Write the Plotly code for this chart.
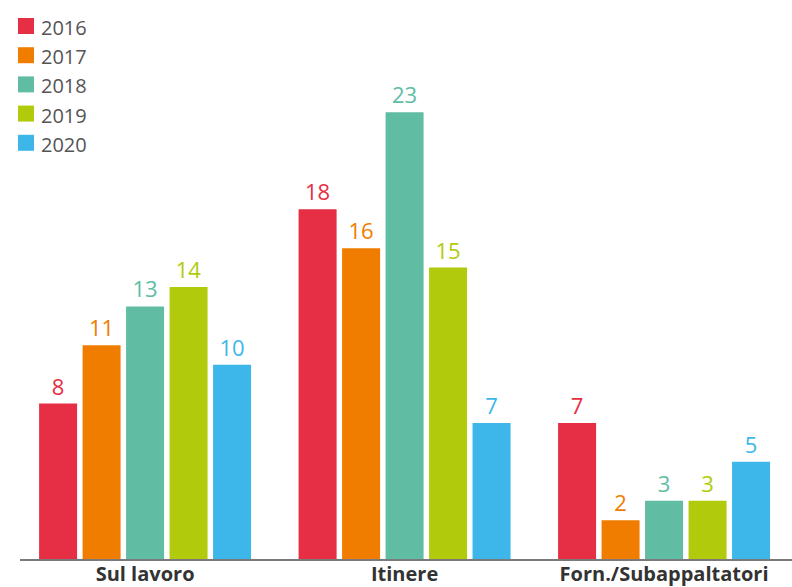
import plotly.graph_objects as go

categories = ["Sul lavoro", "Itinere", "Forn./Subappaltatori"]
years = ["2016", "2017", "2018", "2019", "2020"]
values_2016 = [8, 18, 7]
values_2017 = [11, 16, 2]
values_2018 = [13, 23, 3]
values_2019 = [14, 15, 3]
values_2020 = [10, 7, 5]
series = [values_2016, values_2017, values_2018, values_2019, values_2020]
colors = ["#E62E45", "#F07D00", "#60BDA4", "#B1CB0C", "#3DB7E9"]

FONT = "Open Sans"

# plot area geometry in pixels
W, H = 792, 587
L, R, T, B = 20, 0, 15, 28
pw, ph = W - L - R, H - T - B

fig = go.Figure()
for name, vals, col in zip(years, series, colors):
    fig.add_trace(go.Bar(
        name=name, x=categories, y=vals,
        marker=dict(color=col, line=dict(width=0)),
        text=[str(v) for v in vals], textposition="outside",
        textfont=dict(family=FONT, size=22, color=col),
        constraintext="none", cliponaxis=False, showlegend=False,
    ))

def px_x(p):
    return (p - L) / pw

def px_y(p):
    return (H - B - p) / ph

# legend drawn as squares + labels
shapes, annotations = [], []
for i, (name, col) in enumerate(zip(years, colors)):
    cy = 26 + i * 29.2
    shapes.append(dict(type="rect", xref="paper", yref="paper",
                       x0=px_x(18), x1=px_x(34), y0=px_y(cy + 8), y1=px_y(cy - 8),
                       fillcolor=col, line=dict(width=0), layer="above"))
    annotations.append(dict(xref="paper", yref="paper", x=px_x(39), y=px_y(cy + 1.5),
                            xanchor="left", yanchor="middle", text=name, showarrow=False,
                            font=dict(family=FONT, size=20, color="#555555")))

fig.update_layout(
    width=W, height=H,
    margin=dict(l=L, r=R, t=T, b=B, pad=0, autoexpand=False),
    paper_bgcolor="white", plot_bgcolor="white",
    barmode="group", bargap=0.162, bargroupgap=0.126,
    shapes=shapes, annotations=annotations,
    xaxis=dict(range=[-0.482, 2.493], showline=True, linecolor="#7a7a7a", linewidth=1.5,
               showgrid=False, zeroline=False, ticks="", automargin=False,
               ticklabelstandoff=-4,
               tickfont=dict(family=FONT, size=20, color="#333333", weight="bold")),
    yaxis=dict(range=[0, 28], visible=False, showgrid=False, zeroline=False),
    showlegend=False,
)

fig.write_html("out.html")
